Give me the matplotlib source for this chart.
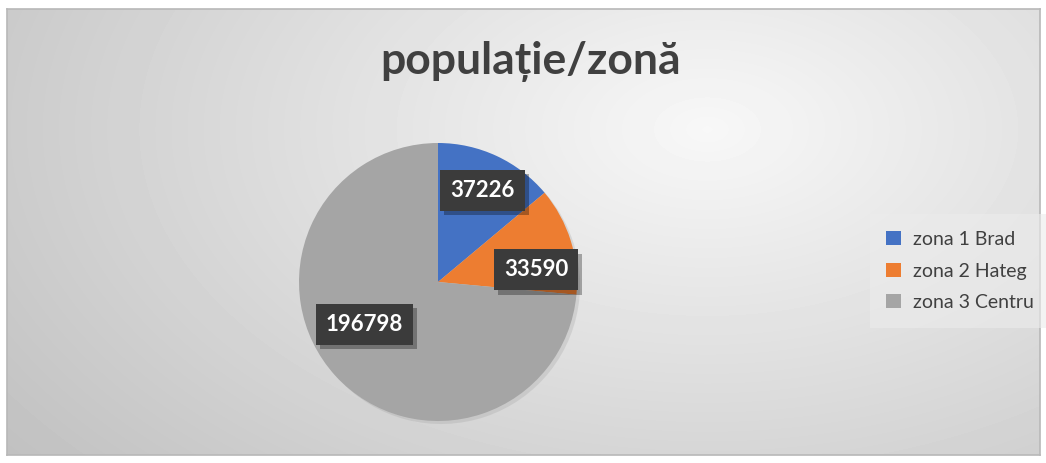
import numpy as np
import matplotlib
matplotlib.use("Agg")
import matplotlib.pyplot as plt
import matplotlib.patheffects as pe

# date
zone = ["zona 1 Brad", "zona 2 Hateg", "zona 3 Centru"]
populatie = [37226, 33590, 196798]
culori = ["#4472C4", "#ED7D31", "#A5A5A5"]
titlu = "populație/zonă"

plt.rcParams["font.family"] = ["Lato", "DejaVu Sans"]

W, H = 1046, 463
fig = plt.figure(figsize=(W / 100, H / 100), dpi=100)
fig.patch.set_facecolor("white")

# fundal cu gradient radial
bg = fig.add_axes([7 / W, 8 / H, 1033 / W, 446 / H])
yy, xx = np.mgrid[0:446, 0:1033]
d = np.sqrt(((xx - 700) / 700.0) ** 2 + ((yy - 120) / 420.0) ** 2)
val = 0.97 - 0.17 * np.minimum(d, 1.4)
bg.imshow(val, cmap="gray", vmin=0, vmax=1, aspect="auto", interpolation="bilinear")
bg.set_xticks([])
bg.set_yticks([])
for s in bg.spines.values():
    s.set_color("#b8b8b8")
    s.set_linewidth(1.2)

# axa pentru pie in coordonate pixel
ax = fig.add_axes([0, 0, 1, 1])

cx, cy, r = 438, H - 282, 139

# umbra
ax.pie(populatie, colors=["#9a9a9a"] * 3, startangle=90, counterclock=False,
       center=(cx + 3, cy - 3), radius=r, wedgeprops=dict(alpha=0.25, linewidth=0))

wedges, texte = ax.pie(
    populatie, labels=None, colors=culori, startangle=90, counterclock=False,
    center=(cx, cy), radius=r, wedgeprops=dict(linewidth=0))

ax.set_xlim(0, W)
ax.set_ylim(0, H)
ax.set_aspect("equal")
ax.axis("off")

# etichete cu valori
offs = [(0.73, 64), (0.71, 7), (0.61, 210)]
for w, v, (dist, ang) in zip(wedges, populatie, offs):
    x = cx + dist * r * np.cos(np.radians(ang))
    y = cy + dist * r * np.sin(np.radians(ang))
    t = ax.text(x, y, str(v), ha="center", va="center", color="white",
                fontsize=16, fontweight="bold",
                bbox=dict(boxstyle="square,pad=0.45", facecolor="#3b3b3b",
                          edgecolor="none"))
    t.get_bbox_patch().set_path_effects(
        [pe.SimplePatchShadow(offset=(3, -3), shadow_rgbFace="black", alpha=0.3),
         pe.Normal()])

ax.text(531, H - 62, titlu, ha="center", va="center", fontsize=32,
        fontweight="bold", color="#404040")

leg = ax.legend(wedges, zone, loc="center left", bbox_to_anchor=(866 / W, 1 - 271 / H),
                bbox_transform=fig.transFigure, frameon=True, fontsize=14,
                handlelength=0.75, handleheight=0.75, handletextpad=0.6,
                labelspacing=0.75, borderpad=0.55)
leg.get_frame().set_facecolor("#ececec")
leg.get_frame().set_alpha(0.6)
leg.get_frame().set_edgecolor("none")
leg.get_frame().set_boxstyle("square")
for t in leg.get_texts():
    t.set_color("#404040")

fig.savefig("out.png", dpi=100)
